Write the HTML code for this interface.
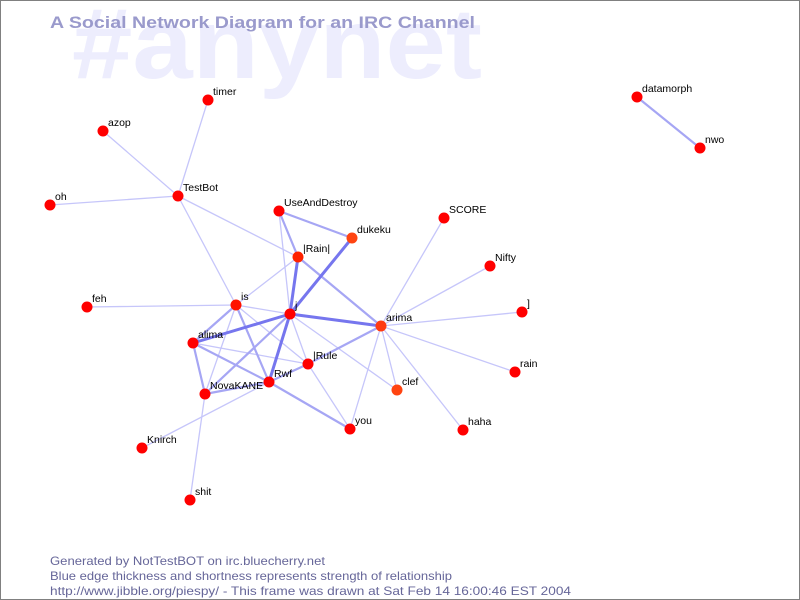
<!DOCTYPE html>
<html><head><meta charset="utf-8"><style>
html,body{margin:0;padding:0;background:#fff;}
svg{display:block;}
</style></head><body>
<svg width="800" height="600" viewBox="0 0 800 600" xmlns="http://www.w3.org/2000/svg">
<rect x="0" y="0" width="800" height="600" fill="#fff"/>
<text x="72" y="78" font-family="Liberation Sans, sans-serif" font-weight="bold" font-size="100" fill="#ededfd" textLength="410" lengthAdjust="spacingAndGlyphs">#anynet</text>
<text x="50" y="28" font-family="Liberation Sans, sans-serif" font-weight="bold" font-size="17" fill="#9a9acc" textLength="425" lengthAdjust="spacingAndGlyphs">A Social Network Diagram for an IRC Channel</text>
<g stroke-linecap="round">
<g stroke="#c6c6fa" stroke-width="1.3">
<line x1="178" y1="196" x2="208" y2="100"/>
<line x1="178" y1="196" x2="103" y2="131"/>
<line x1="178" y1="196" x2="50" y2="205"/>
<line x1="178" y1="196" x2="236" y2="305"/>
<line x1="178" y1="196" x2="298" y2="257"/>
<line x1="279" y1="211" x2="290" y2="314"/>
<line x1="298" y1="257" x2="236" y2="305"/>
<line x1="236" y1="305" x2="87" y2="307"/>
<line x1="236" y1="305" x2="290" y2="314"/>
<line x1="236" y1="305" x2="205" y2="394"/>
<line x1="236" y1="305" x2="308" y2="364"/>
<line x1="193" y1="343" x2="308" y2="364"/>
<line x1="205" y1="394" x2="190" y2="500"/>
<line x1="269" y1="382" x2="142" y2="448"/>
<line x1="308" y1="364" x2="290" y2="314"/>
<line x1="308" y1="364" x2="350" y2="429"/>
<line x1="290" y1="314" x2="397" y2="390"/>
<line x1="381" y1="326" x2="444" y2="218"/>
<line x1="381" y1="326" x2="490" y2="266"/>
<line x1="381" y1="326" x2="522" y2="312"/>
<line x1="381" y1="326" x2="515" y2="372"/>
<line x1="381" y1="326" x2="463" y2="430"/>
<line x1="381" y1="326" x2="397" y2="390"/>
<line x1="381" y1="326" x2="350" y2="429"/>
</g>
<g stroke="#a6a6f4" stroke-width="2.2">
<line x1="279" y1="211" x2="298" y2="257"/>
<line x1="279" y1="211" x2="352" y2="238"/>
<line x1="298" y1="257" x2="381" y2="326"/>
<line x1="236" y1="305" x2="193" y2="343"/>
<line x1="236" y1="305" x2="269" y2="382"/>
<line x1="193" y1="343" x2="269" y2="382"/>
<line x1="193" y1="343" x2="205" y2="394"/>
<line x1="205" y1="394" x2="290" y2="314"/>
<line x1="205" y1="394" x2="269" y2="382"/>
<line x1="269" y1="382" x2="308" y2="364"/>
<line x1="269" y1="382" x2="350" y2="429"/>
<line x1="308" y1="364" x2="381" y2="326"/>
<line x1="637" y1="97" x2="700" y2="148"/>
</g>
<g stroke="#7676ee" stroke-width="3">
<line x1="352" y1="238" x2="290" y2="314"/>
<line x1="298" y1="257" x2="290" y2="314"/>
<line x1="193" y1="343" x2="290" y2="314"/>
<line x1="269" y1="382" x2="290" y2="314"/>
<line x1="290" y1="314" x2="381" y2="326"/>
</g>
</g>
<g fill="#ff0000">
<circle cx="208" cy="100" r="5.5"/>
<circle cx="103" cy="131" r="5.5"/>
<circle cx="178" cy="196" r="5.5"/>
<circle cx="50" cy="205" r="5.5"/>
<circle cx="279" cy="211" r="5.5"/>
<circle cx="298" cy="257" r="5.5" fill="#ff2200"/>
<circle cx="444" cy="218" r="5.5"/>
<circle cx="490" cy="266" r="5.5"/>
<circle cx="522" cy="312" r="5.5"/>
<circle cx="236" cy="305" r="5.5" fill="#ff1100"/>
<circle cx="87" cy="307" r="5.5"/>
<circle cx="290" cy="314" r="5.5"/>
<circle cx="193" cy="343" r="5.5"/>
<circle cx="308" cy="364" r="5.5"/>
<circle cx="269" cy="382" r="5.5"/>
<circle cx="205" cy="394" r="5.5"/>
<circle cx="515" cy="372" r="5.5"/>
<circle cx="350" cy="429" r="5.5"/>
<circle cx="463" cy="430" r="5.5"/>
<circle cx="142" cy="448" r="5.5"/>
<circle cx="190" cy="500" r="5.5"/>
<circle cx="637" cy="97" r="5.5"/>
<circle cx="700" cy="148" r="5.5"/>
<circle cx="352" cy="238" r="5.5" fill="#ff4411"/>
<circle cx="381" cy="326" r="5.5" fill="#ff3a10"/>
<circle cx="397" cy="390" r="5.5" fill="#ff4411"/>
</g>
<g font-family="Liberation Sans, sans-serif" font-size="10.5" fill="#000">
<text x="213" y="95">timer</text>
<text x="108" y="126">azop</text>
<text x="183" y="191">TestBot</text>
<text x="55" y="200">oh</text>
<text x="284" y="206">UseAndDestroy</text>
<text x="357" y="233">dukeku</text>
<text x="303" y="252">|Rain|</text>
<text x="449" y="213">SCORE</text>
<text x="495" y="261">Nifty</text>
<text x="527" y="307">]</text>
<text x="241" y="300">is</text>
<text x="92" y="302">feh</text>
<text x="295" y="309">j</text>
<text x="386" y="321">arima</text>
<text x="198" y="338">alima</text>
<text x="313" y="359">|Rule</text>
<text x="274" y="377">Rwf</text>
<text x="210" y="389">NovaKANE</text>
<text x="402" y="385">clef</text>
<text x="520" y="367">rain</text>
<text x="355" y="424">you</text>
<text x="468" y="425">haha</text>
<text x="147" y="443">Knirch</text>
<text x="195" y="495">shit</text>
<text x="642" y="92">datamorph</text>
<text x="705" y="143">nwo</text>
</g>
<g font-family="Liberation Sans, sans-serif" font-size="12" fill="#666699">
<text x="50" y="565" textLength="275" lengthAdjust="spacingAndGlyphs">Generated by NotTestBOT on irc.bluecherry.net</text>
<text x="50" y="580" textLength="402" lengthAdjust="spacingAndGlyphs">Blue edge thickness and shortness represents strength of relationship</text>
<text x="50" y="595" textLength="521" lengthAdjust="spacingAndGlyphs">http://www.jibble.org/piespy/ - This frame was drawn at Sat Feb 14 16:00:46 EST 2004</text>
</g>
<rect x="0.5" y="0.5" width="799" height="599" fill="none" stroke="#808080" stroke-width="1"/>
</svg>
</body></html>
